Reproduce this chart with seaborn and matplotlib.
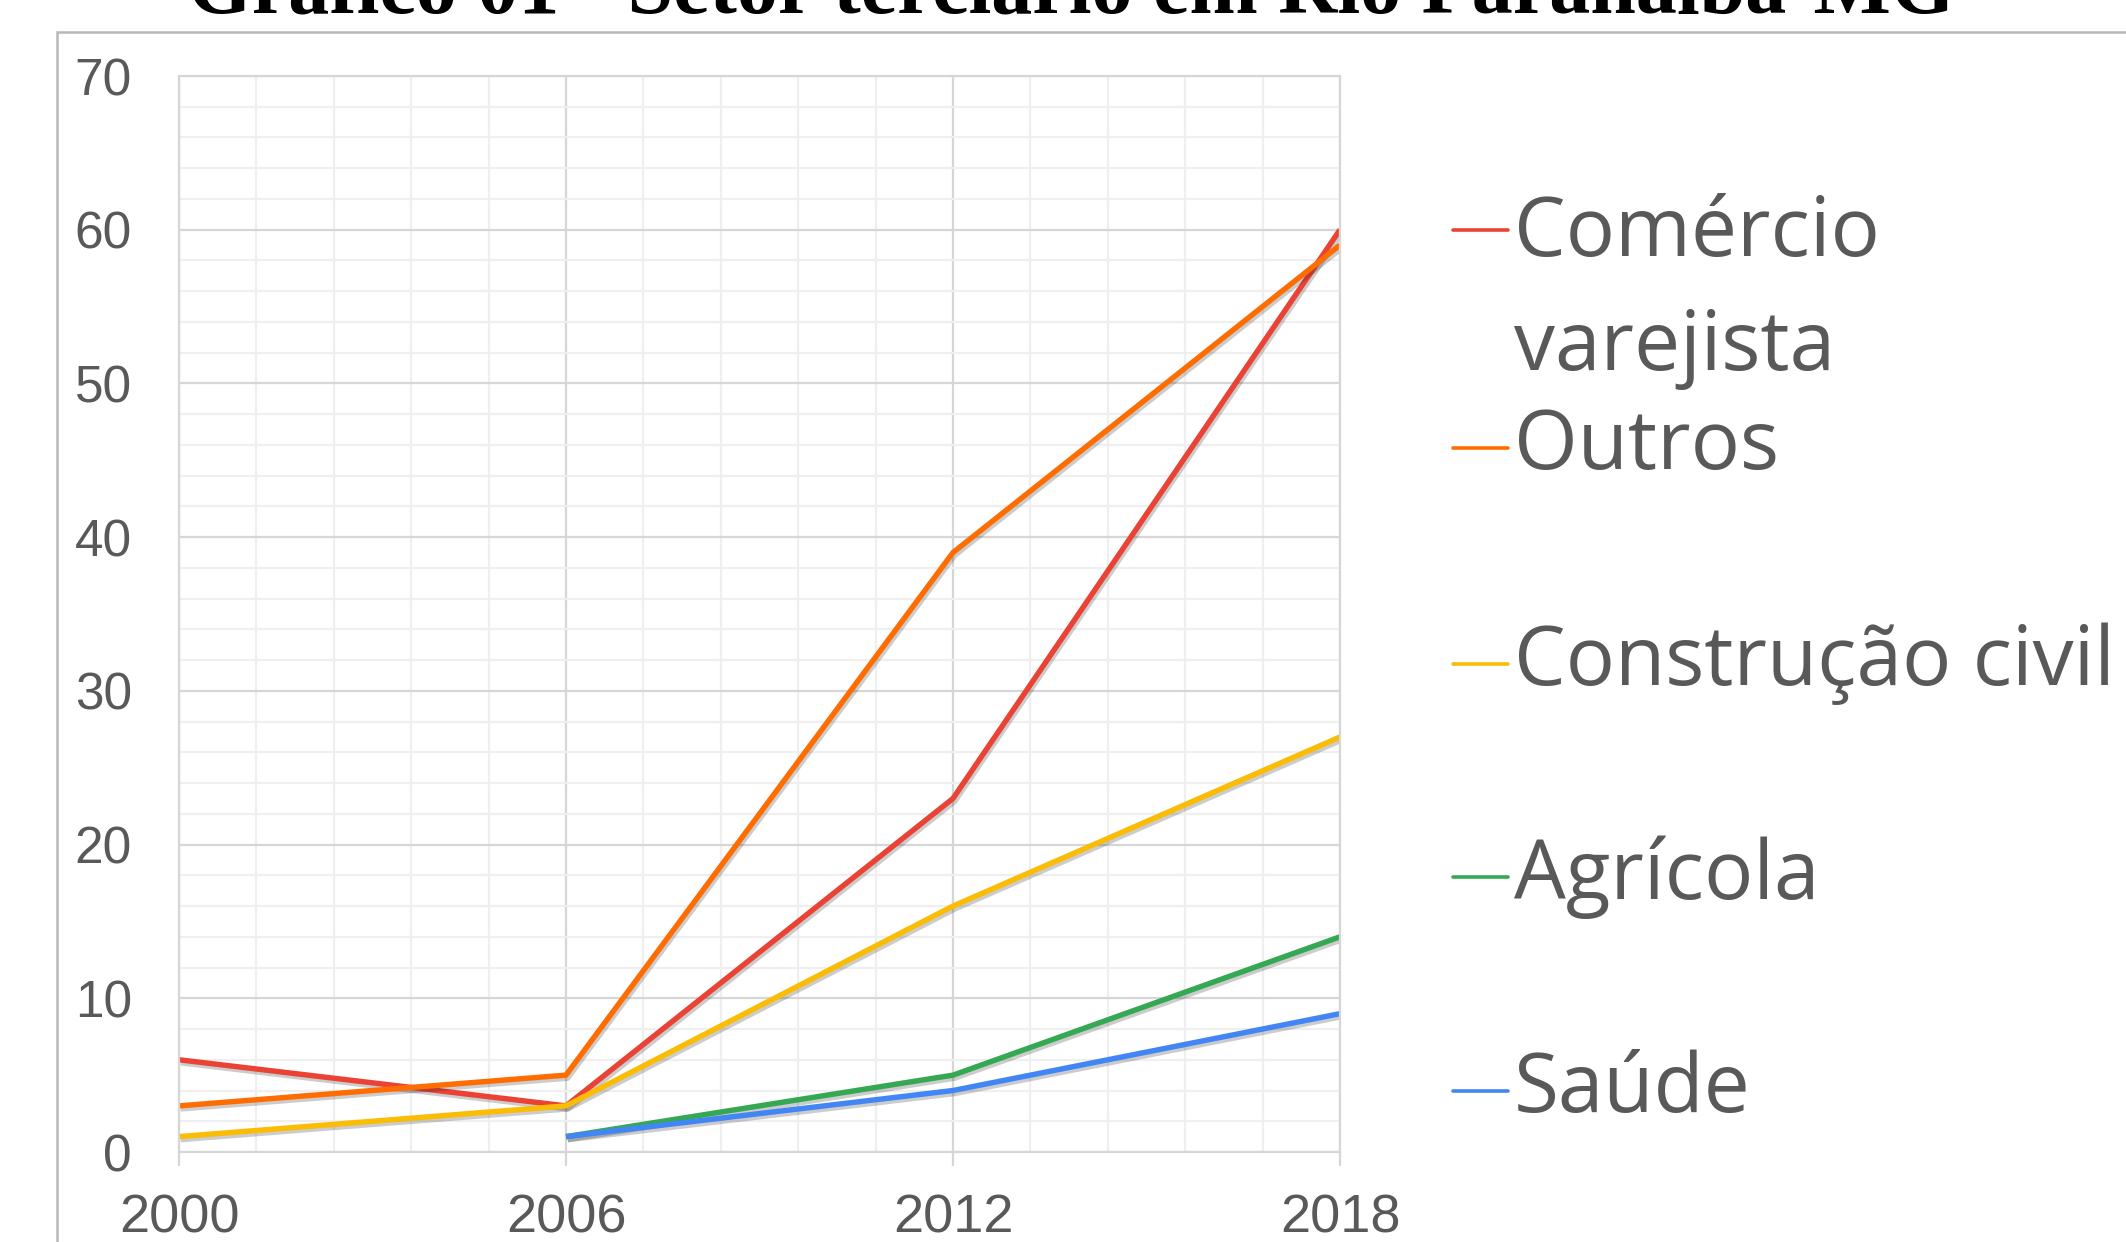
import pandas as pd
import numpy as np
import matplotlib
matplotlib.use("Agg")
import matplotlib.pyplot as plt
import matplotlib.patheffects as pe
from matplotlib.lines import Line2D
from matplotlib.patches import Rectangle
from matplotlib.ticker import MultipleLocator, AutoMinorLocator
import seaborn as sns

# data
anos = [2000, 2006, 2012, 2018]
comercio = [6, 3, 23, 60]
outros = [3, 5, 39, 59]
construcao = [1, 3, 16, 27]
agricola = [np.nan, 1, 5, 14]
saude = [np.nan, 1, 4, 9]

setores = ["Comércio varejista", "Outros", "Construção civil", "Agrícola", "Saúde"]
rotulos = ["Comércio\nvarejista", "Outros", "Construção civil", "Agrícola", "Saúde"]
cores = ["#ea4335", "#ff6d01", "#fbbc04", "#34a853", "#4285f4"]

df = pd.DataFrame({"ano": anos, setores[0]: comercio, setores[1]: outros,
                   setores[2]: construcao, setores[3]: agricola, setores[4]: saude})
df = df.melt(id_vars="ano", var_name="setor", value_name="valor").dropna()

sns.set_theme(style="white")
plt.rcParams["font.family"] = ["Liberation Sans", "DejaVu Sans"]

W, H = 2126, 1242
fig = plt.figure(figsize=(W / 100, H / 100), dpi=100)
ax = fig.add_axes([179 / W, 1 - 1152 / H, (1340 - 179) / W, (1152 - 76) / H])

sns.lineplot(data=df, x="ano", y="valor", hue="setor", hue_order=setores,
             palette=dict(zip(setores, cores)), estimator=None, linewidth=3.9,
             legend=False, ax=ax)
for ln in ax.get_lines():
    ln.set_path_effects([pe.SimpleLineShadow(offset=(1.2, -2.2), alpha=0.22, shadow_color="k"),
                         pe.Normal()])
    ln.set_solid_capstyle("butt")

ax.set_xlim(2000, 2018)
ax.set_ylim(0, 70)
ax.set_xticks(anos)
ax.yaxis.set_major_locator(MultipleLocator(10))
ax.xaxis.set_minor_locator(AutoMinorLocator(5))
ax.yaxis.set_minor_locator(AutoMinorLocator(5))
ax.grid(which="major", color="#d6d6d6", linewidth=1.6)
ax.grid(which="minor", color="#efefef", linewidth=1.6)
ax.set_axisbelow(True)
for s in ax.spines.values():
    s.set_color("#d6d6d6")
    s.set_linewidth(1.6)

ax.tick_params(axis="y", which="both", length=0, pad=34, labelsize=37, labelcolor="#595959")
ax.tick_params(axis="x", which="major", length=10, width=1.6, color="#d6d6d6",
               pad=20, labelsize=39, labelcolor="#595959", bottom=True)
ax.tick_params(axis="x", which="minor", length=0)
ax.set_xlabel("")
ax.set_ylabel("")

# legenda desenhada a mao
leg_y = [292, 448, 664, 877, 1091]
for rot, cor, yy in zip(rotulos, cores, leg_y):
    yl = 230 if "\n" in rot else yy
    fig.add_artist(Line2D([1453 / W, 1508 / W], [1 - yl / H, 1 - yl / H],
                          color=cor, linewidth=2.6, transform=fig.transFigure))
    fig.text(1514 / W, 1 - yy / H, rot, fontsize=59, color="#595959",
             family=["Open Sans", "DejaVu Sans"], va="center", ha="left", linespacing=1.5)

# moldura do grafico
fig.add_artist(Rectangle((57 / W, -0.1), 1.2, 1.1 - 32 / H, transform=fig.transFigure,
                         fill=False, edgecolor="#b8b8b8", linewidth=1.8))

fig.text(1071 / W, 1 - 12 / H, "Gráfico 01 - Setor terciário em Rio Paranaíba-MG",
         fontsize=59, fontweight="bold", family=["Liberation Serif", "DejaVu Serif"],
         ha="center", va="baseline", color="black")

fig.savefig("out.png", dpi=100)
